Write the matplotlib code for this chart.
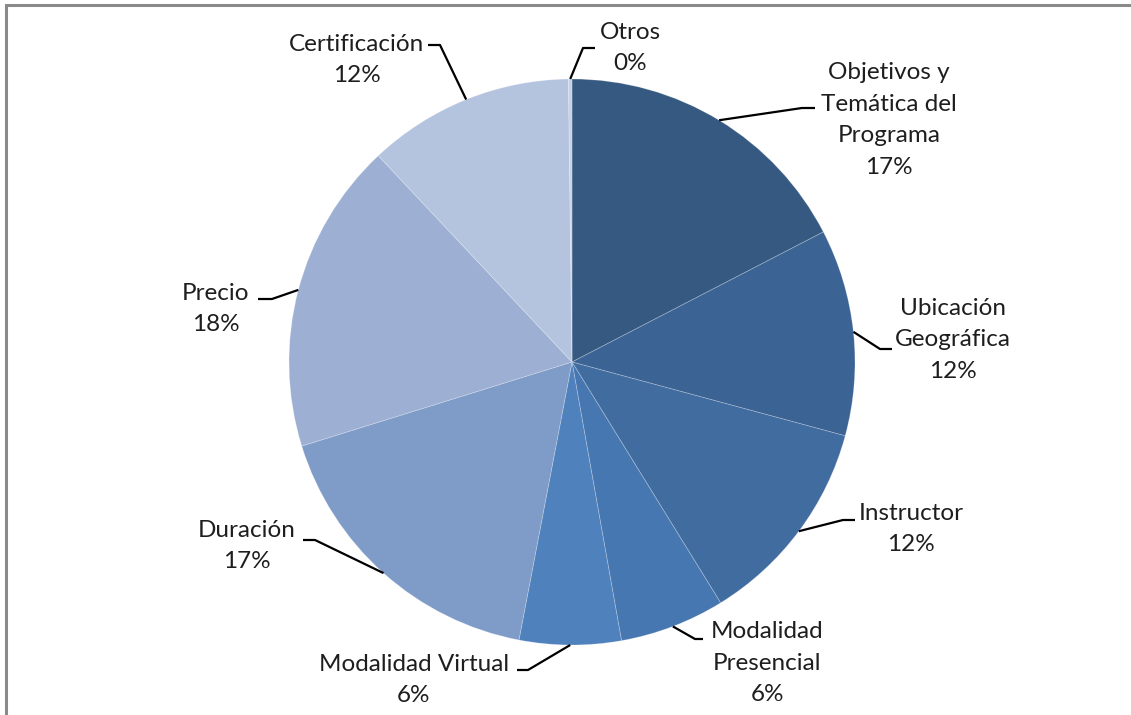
import matplotlib.pyplot as plt
from matplotlib.patches import Rectangle
import numpy as np

plt.rcParams['font.family'] = ['Lato', 'DejaVu Sans']

# Data
labels = ['Objetivos y\nTemática del\nPrograma', 'Ubicación\nGeográfica', 'Instructor',
          'Modalidad\nPresencial', 'Modalidad Virtual', 'Duración', 'Precio',
          'Certificación', 'Otros']
values = [17.4, 11.8, 12.0, 6.0, 5.8, 17.2, 17.8, 11.8, 0.2]
colors = ['#365981', '#3b6394', '#416ca0', '#4777b0', '#4f81bd',
          '#7f9bc7', '#9db0d3', '#b4c3de', '#c8d2e6']

# Layout (pixel coords, y measured from top of image)
W, H = 1131, 715
cx, cy, r = 572, 362, 283
# text block centre, elbow point, end of horizontal tick
text_pos = [(889, 120), (953, 340), (911, 529), (767, 663), (414, 680),
            (247, 546), (216, 309), (357, 60), (630, 48)]
elbows = [(802, 108), (880, 349), (843, 520), (695, 639), (528, 670),
          (315, 540), (272, 299), (440, 45), (583, 48)]
tick_end = [815, 892, 855, 703, 517, 303, 258, 428, 595]

fig = plt.figure(figsize=(W / 100, H / 100), dpi=100)
ax = fig.add_axes([0, 0, 1, 1])

wedges, _ = ax.pie(values, colors=colors, startangle=90, counterclock=False,
                   center=(cx, H - cy), radius=r, frame=True,
                   wedgeprops=dict(edgecolor=(1, 1, 1, 0.25), linewidth=0.6))
ax.set_xlim(0, W)
ax.set_ylim(0, H)
ax.axis('off')

total = sum(values)
cum = 0
for i, v in enumerate(values):
    mid = (cum + v / 2) / total * 2 * np.pi
    cum += v
    sx = cx + r * np.sin(mid)
    sy = cy - r * np.cos(mid)
    ex, ey = elbows[i]
    ax.plot([sx, ex, tick_end[i]], [H - sy, H - ey, H - ey], color='black', lw=1.6,
            solid_capstyle='butt', zorder=3)
    tx, ty = text_pos[i]
    ax.text(tx, H - ty, f'{labels[i]}\n{v:.0f}%', ha='center', va='center',
            fontsize=17.5, color='#1e1e1e', linespacing=1.62, zorder=4)

# Chart area border (only left and top show in the crop)
ax.add_patch(Rectangle((6, -20), W + 50, H - 5 + 20, fill=False,
                       edgecolor='#8a8a8a', lw=2.2, clip_on=False))

fig.savefig('out.png', dpi=100, facecolor='white')
